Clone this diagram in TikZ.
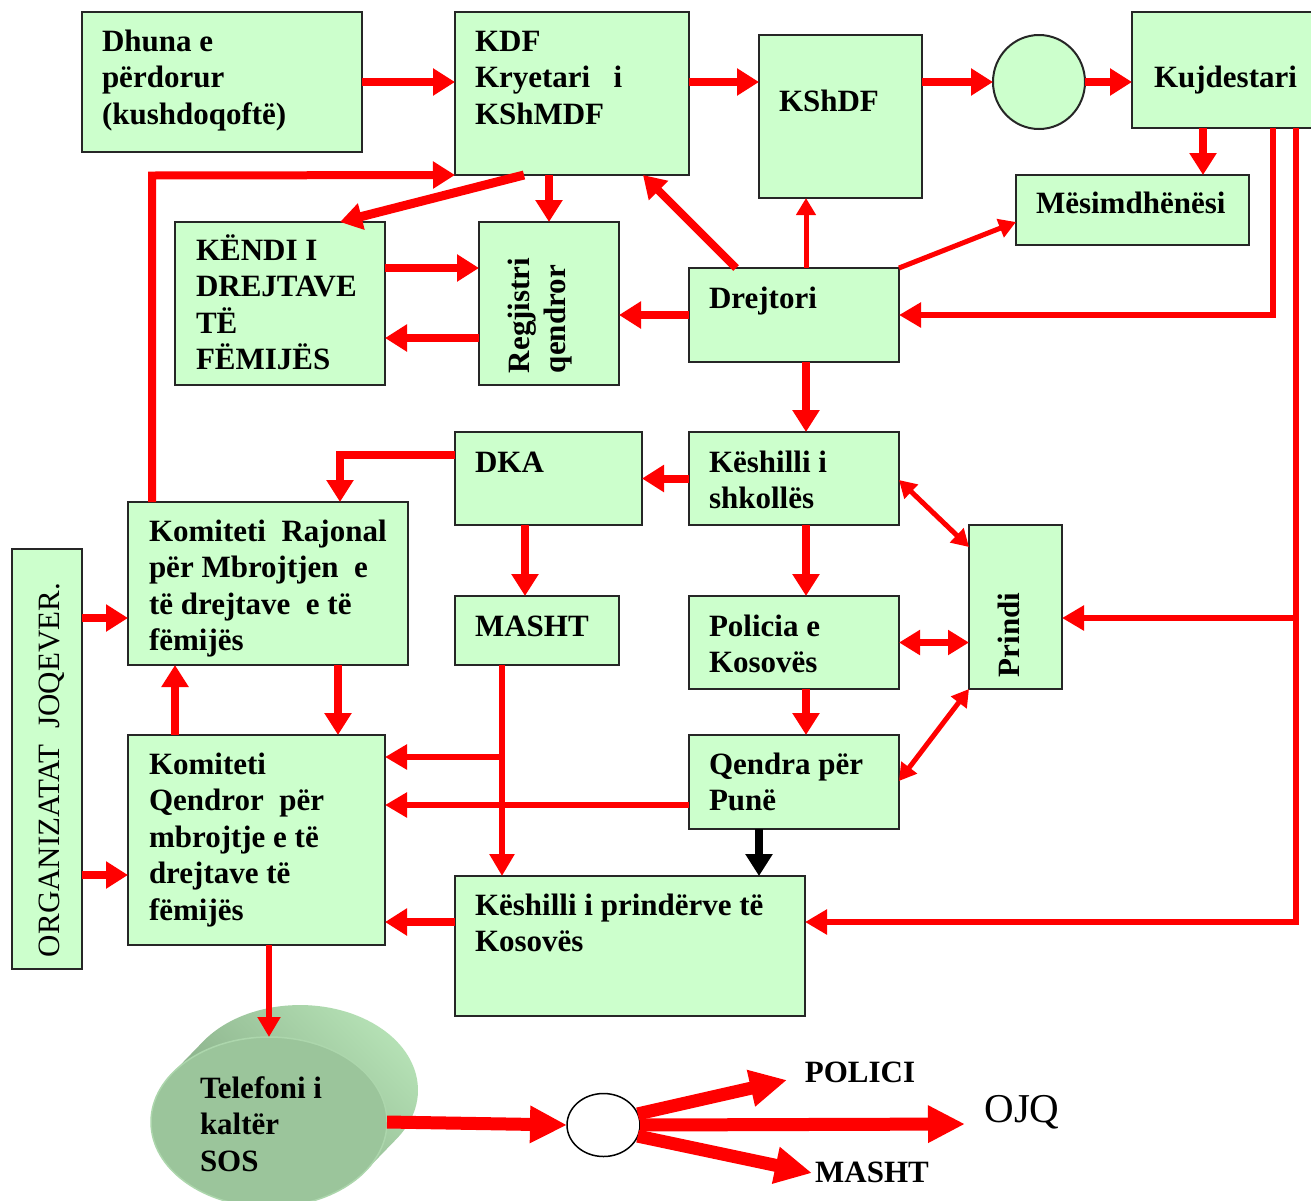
\documentclass[tikz,border=0pt]{standalone}
\usepackage{fontspec}
\setmainfont{Liberation Serif}
\usetikzlibrary{arrows.meta,shapes.geometric}
\definecolor{boxg}{RGB}{204,255,204}
\definecolor{telfront}{RGB}{155,197,155}
\definecolor{teldark}{RGB}{120,156,120}
\definecolor{tellight}{RGB}{182,226,182}
\definecolor{teledge}{RGB}{172,214,172}
\begin{document}
\begin{tikzpicture}[x=1pt,y=-1pt,
  box/.style={draw=black!85,line width=2pt,fill=boxg,inner sep=0pt,outer sep=0pt},
  tx/.style={anchor=north west,inner sep=0pt,outer sep=0pt,align=left,font={\bfseries\fontsize{31}{36.5}\selectfont}},
  lbl/.style={inner sep=0pt,outer sep=0pt,font={\bfseries\fontsize{31}{36.5}\selectfont}},
  ra/.style={draw=red,line width=8pt,-{Triangle[length=22pt,width=26pt]}},
  rm/.style={draw=red,line width=6pt,-{Triangle[length=22pt,width=24pt]}},
  rt/.style={draw=red,line width=5pt,-{Triangle[length=17pt,width=19pt]}},
  rd/.style={draw=red,line width=5pt,{Triangle[length=17pt,width=19pt]}-{Triangle[length=17pt,width=19pt]}},
  rdd/.style={draw=red,line width=7pt,{Triangle[length=21pt,width=24pt]}-{Triangle[length=21pt,width=24pt]}},
  rl/.style={draw=red,line width=6pt},
  ba/.style={draw=red,line width=13pt,-{Triangle[length=37pt,width=35pt]}}
]
\fill[white] (0,0) rectangle (1311,1200);
\useasboundingbox (0,0) rectangle (1311,1200);

% boxes
\node[box,minimum width=280pt,minimum height=140pt] (dhuna) at (222,82) {};
\node[box,minimum width=234pt,minimum height=163pt] (kdf) at (572,93.5) {};
\node[box,minimum width=163pt,minimum height=163pt] (kshdf) at (840.5,116.5) {};
\node[draw=black!85,line width=2pt,fill=boxg,ellipse,inner sep=0pt,outer sep=0pt,minimum width=92pt,minimum height=94pt] (circ) at (1039,82) {};
\node[box,minimum width=181pt,minimum height=116pt] (kujd) at (1222.5,70) {};
\node[box,minimum width=233pt,minimum height=70pt] (mesim) at (1132.5,210) {};
\node[box,minimum width=210pt,minimum height=163pt] (kendi) at (280,303.5) {};
\node[box,minimum width=140pt,minimum height=163pt] (regj) at (549,303.5) {};
\node[box,minimum width=210pt,minimum height=94pt] (drej) at (794,315) {};
\node[box,minimum width=187pt,minimum height=93pt] (dka) at (548.5,478.5) {};
\node[box,minimum width=210pt,minimum height=93pt] (kshk) at (794,478.5) {};
\node[box,minimum width=280pt,minimum height=163pt] (krmdf) at (268,583.5) {};
\node[box,minimum width=70pt,minimum height=420pt] (org) at (47,759) {};
\node[box,minimum width=164pt,minimum height=69pt] (masht) at (537,630.5) {};
\node[box,minimum width=210pt,minimum height=93pt] (pol) at (794,642.5) {};
\node[box,minimum width=93pt,minimum height=164pt] (prindi) at (1015.5,607) {};
\node[box,minimum width=257pt,minimum height=210pt] (kqmdf) at (256.5,840) {};
\node[box,minimum width=210pt,minimum height=94pt] (qendra) at (794,782) {};
\node[box,minimum width=350pt,minimum height=140pt] (kpk) at (630,946) {};

% telephone cylinder
\shade[left color=tellight,right color=teldark,shading angle=-45]
  (203.2,1041.4) arc[start angle=214.9,end angle=394.9,x radius=118,y radius=85]
  -- (365.8,1170.6) arc[start angle=34.9,end angle=214.9,x radius=118,y radius=85] -- cycle;
\node[ellipse,fill=telfront,draw=teledge,line width=1.5pt,inner sep=0pt,outer sep=0pt,minimum width=236pt,minimum height=170pt] (tel) at (269,1122) {};
\node[draw=black,line width=1.5pt,fill=white,ellipse,inner sep=0pt,outer sep=0pt,minimum width=73pt,minimum height=63pt] (oe) at (603.5,1125) {};

% texts
\node[tx] (t1) at (102,23) {\rule{0pt}{28pt}Dhuna e\\përdorur\\(kushdoqoftë)};
\node[tx] (t2) at (475,23) {\rule{0pt}{28pt}KDF\\Kryetari\ \ \ i\\KShMDF};
\node[tx] (t3) at (779,83) {\rule{0pt}{28pt}KShDF};
\node[tx] (t4) at (1154,59) {\rule{0pt}{28pt}Kujdestari};
\node[tx] (t5) at (1036,185) {\rule{0pt}{28pt}Mësimdhënësi};
\node[tx] (t6) at (196,232) {\rule{0pt}{28pt}KËNDI I\\DREJTAVE\\TË\\FËMIJËS};
\node[tx,rotate=90] (t7) at (501,373) {\rule{0pt}{28pt}Regjistri\\qendror};
\node[tx] (t8) at (709,280) {\rule{0pt}{28pt}Drejtori};
\node[tx] (t9) at (475,444) {\rule{0pt}{28pt}DKA};
\node[tx] (t10) at (709,444) {\rule{0pt}{28pt}Këshilli i\\shkollës};
\node[tx] (t11) at (149,513) {\rule{0pt}{28pt}Komiteti\ \ Rajonal\\për Mbrojtjen\ \ e\\të drejtave\ \ e të\\fëmijës};
\node[tx] (t12) at (475,608) {\rule{0pt}{28pt}MASHT};
\node[tx] (t13) at (709,608) {\rule{0pt}{28pt}Policia e\\Kosovës};
\node[tx,rotate=90] (t14) at (991,677) {\rule{0pt}{28pt}Prindi};
\node[tx,rotate=90,font={\fontsize{31}{36.5}\selectfont}] (t15) at (31,957) {\rule{0pt}{28pt}ORGANIZATAT\ \ JOQEVER.};
\node[tx] (t16) at (149,746) {\rule{0pt}{28pt}Komiteti\\Qendror\ \ për\\mbrojtje e të\\drejtave të\\fëmijës};
\node[tx] (t17) at (709,746) {\rule{0pt}{28pt}Qendra për\\Punë};
\node[tx] (t18) at (475,887) {\rule{0pt}{28pt}Këshilli i prindërve të\\Kosovës};
\node[tx] (t19) at (200,1070) {\rule{0pt}{28pt}Telefoni i\\kaltër\\SOS};
\node[lbl] (lp) at (860,1072) {POLICI};
\node[lbl] (lm) at (872,1172) {MASHT};
\node[inner sep=0pt,font={\fontsize{41}{45}\selectfont}] (lo) at (1022,1112) {OJQ};

% connectors
\draw[ra] (dhuna.east) -- (kdf.west |- dhuna.east);
\draw[ra] (kdf.east |- 0,82) -- (kshdf.west |- 0,82);
\draw[ra] (kshdf.east |- 0,82) -- (circ.west);
\draw[ra] (circ.east) -- (kujd.west |- circ.east);
\draw[ra] (krmdf.north -| 152,0) -- (152,175.5) -- (kdf.south west);
\draw[ra,line width=9pt] (524,0 |- kdf.south) -- (340,0 |- kendi.north);
\draw[ra] (549,0 |- kdf.south) -- (549,0 |- regj.north);
\draw[ra] (kendi.east |- 0,268) -- (regj.west |- 0,268);
\draw[ra] (regj.west |- 0,338) -- (kendi.east |- 0,338);
\draw[ra] (drej.west) -- (regj.east |- drej.west);
\draw[ra] (736,0 |- drej.north) -- (643,0 |- kdf.south);
\draw[rt] (806,0 |- drej.north) -- (806,0 |- kshdf.south);
\draw[rt] (drej.north east) -- (mesim.west |- 0,222);
\draw[ra] (1203,0 |- kujd.south) -- (1203,0 |- mesim.north);
\draw[rm] (1273,0 |- kujd.south) -- (1273,315) -- (drej.east);
\draw[rm] (1296,0 |- kujd.south) -- (1296,922) -- (kpk.east |- 0,922);
\draw[rm] (1296,618) -- (prindi.east |- 0,618);
\draw[ra] (806,0 |- drej.south) -- (806,0 |- kshk.north);
\draw[ra] (kshk.west) -- (dka.east |- kshk.west);
\draw[ra] (dka.west |- 0,455) -- (340,455) -- (340,0 |- krmdf.north);
\draw[ra] (525,0 |- dka.south) -- (525,0 |- masht.north);
\draw[ra] (806,0 |- kshk.south) -- (806,0 |- pol.north);
\draw[rd] (kshk.east |- 0,480) -- (prindi.west |- 0,547);
\draw[rdd] (pol.east) -- (prindi.west |- pol.east);
\draw[rd] (qendra.east |- 0,781) -- (prindi.south west);
\draw[ra] (806,0 |- pol.south) -- (806,0 |- qendra.north);
\draw[draw=black,line width=8pt,-{Triangle[length=22pt,width=26pt]}] (759,0 |- qendra.south) -- (759,0 |- kpk.north);
\draw[rm] (qendra.west |- 0,805) -- (kqmdf.east |- 0,805);
\draw[rm] (502,0 |- masht.south) -- (502,0 |- kpk.north);
\draw[rm] (502,757) -- (kqmdf.east |- 0,757);
\draw[ra] (kpk.west |- 0,922) -- (kqmdf.east |- 0,922);
\draw[ra] (338,0 |- krmdf.south) -- (338,0 |- kqmdf.north);
\draw[ra] (175,0 |- kqmdf.north) -- (175,0 |- krmdf.south);
\draw[ra] (org.east |- 0,618) -- (krmdf.west |- 0,618);
\draw[ra] (org.east |- 0,875) -- (kqmdf.west |- 0,875);
\draw[rt,line width=6pt,-{Triangle[length=20pt,width=22pt]}] (269,0 |- kqmdf.south) -- (tel.north);

% bottom block arrows
\coordinate (tipP) at (787,1080);
\coordinate (tipO) at (965,1124);
\coordinate (tipM) at (812,1173);
\draw[ba] (tel.east) -- (oe.west);
\draw[ba] (oe.18) -- (tipP);
\draw[ba] (oe.east) -- (tipO);
\draw[ba] (oe.-18) -- (tipM);
\end{tikzpicture}
\end{document}
